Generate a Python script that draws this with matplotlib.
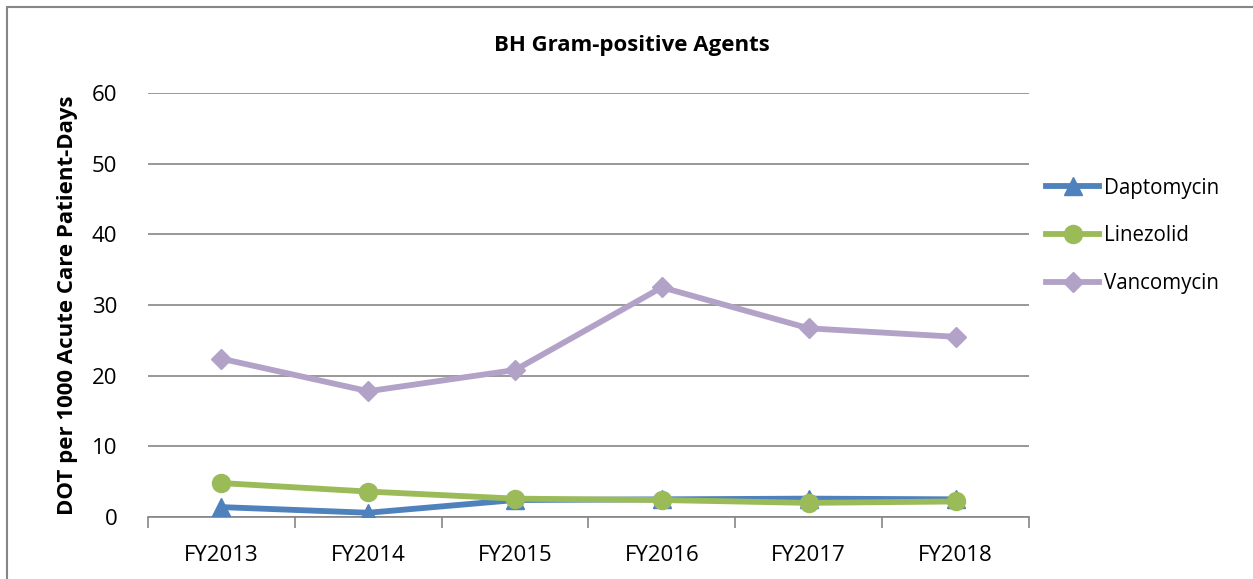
import matplotlib.pyplot as plt
import numpy as np
from matplotlib.patches import Rectangle

years = ["FY2013", "FY2014", "FY2015", "FY2016", "FY2017", "FY2018"]
daptomycin = [1.4, 0.6, 2.4, 2.5, 2.6, 2.5]
linezolid = [4.8, 3.6, 2.6, 2.4, 2.0, 2.2]
vancomycin = [22.4, 17.8, 20.8, 32.5, 26.7, 25.5]

plt.rcParams["font.family"] = ["Open Sans", "DejaVu Sans"]

fig = plt.figure(figsize=(12.53, 5.79), dpi=100)
ax = fig.add_axes([148 / 1253, 1 - 517 / 579, 881 / 1253, 424 / 579])

x = np.arange(len(years))
ax.plot(x, daptomycin, color="#4F81BD", lw=4.2, marker="^", ms=13,
        label="Daptomycin", zorder=3)
ax.plot(x, linezolid, color="#9BBB59", lw=4.2, marker="o", ms=13,
        label="Linezolid", zorder=4)
ax.plot(x, vancomycin, color="#B3A2C7", lw=4.2, marker="D", ms=10,
        label="Vancomycin", zorder=3)

ax.set_xlim(-0.5, len(years) - 0.5)
ax.set_ylim(0, 60)
ax.set_yticks(range(0, 61, 10))
ax.set_xticks(x)
ax.set_xticklabels(years)
ax.set_xticks(np.arange(-0.5, len(years), 1), minor=True)
ax.tick_params(axis="x", which="major", length=0, pad=20, labelsize=16)
ax.tick_params(axis="x", which="minor", length=8, width=1.2, color="#868686")
ax.tick_params(axis="y", length=0, pad=22, labelsize=16)
ax.grid(axis="y", color="#868686", lw=1.2)
ax.set_axisbelow(True)
for s in ["top", "right", "left"]:
    ax.spines[s].set_visible(False)
ax.spines["bottom"].set_color("#868686")
ax.spines["bottom"].set_linewidth(1.2)

ax.set_ylabel("DOT per 1000 Acute Care Patient-Days", fontsize=16,
              fontweight="bold", labelpad=10)
fig.text(632 / 1253, 1 - 45 / 579, "BH Gram-positive Agents", fontsize=16,
         fontweight="bold", ha="center", va="center")

ax.legend(loc="upper left", bbox_to_anchor=(1.01, 0.82), frameon=False,
          fontsize=14.8, handlelength=2.6, labelspacing=1.3, handletextpad=0.2,
          borderaxespad=0)

fig.add_artist(Rectangle((7 / 1253, -0.1), 1.2, 1 - 7 / 579 + 0.1,
                         transform=fig.transFigure, fill=False,
                         edgecolor="#868686", lw=1.5))

fig.savefig("out.png", dpi=100)
